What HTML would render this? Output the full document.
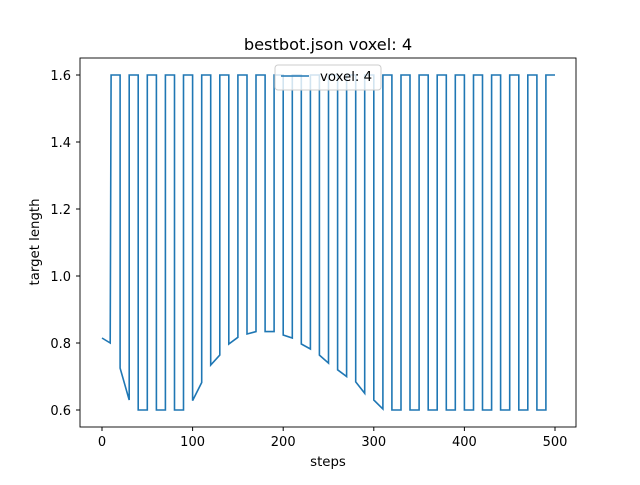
<!DOCTYPE html>
<html><head><meta charset="utf-8"><style>
body{margin:0;background:#fff;}
svg text{font-family:"DejaVu Sans","Liberation Sans",sans-serif;fill:#000;}
</style></head><body>
<svg id="chart" width="640" height="480" xmlns="http://www.w3.org/2000/svg">
<rect width="640" height="480" fill="#fff"/>
<text x="328" y="50" font-size="16.2" text-anchor="middle">bestbot.json voxel: 4</text>
<g id="xt"></g><g id="yt"></g>
<path id="line" fill="none" stroke="#1f77b4" stroke-width="1.6" stroke-linejoin="miter"/>
<rect x="80" y="58" width="496" height="369" fill="none" stroke="#000" stroke-width="0.9"/>
<text x="328" y="466" font-size="13.3" text-anchor="middle">steps</text>
<text transform="translate(39,242) rotate(-90)" font-size="13.3" text-anchor="middle">target length</text>
<g>
<rect x="275" y="65" width="106" height="25" rx="3" fill="#fff" fill-opacity="0.8" stroke="#ccc"/>
<line x1="281" y1="76" x2="309" y2="76" stroke="#1f77b4" stroke-width="1.6"/>
<text x="320" y="81" font-size="13.3">voxel: 4</text>
</g>
</svg>
<script>
const xTicks=[0,100,200,300,400,500];
const yTicks=[0.6,0.8,1.0,1.2,1.4,1.6];
const highVal=1.6;
const startVals=[0.815,0.80];
const lowStartVals=[0.725,0.6,0.6,0.6,0.628,0.734,0.797,0.827,0.834,0.824,0.797,0.764,0.72,0.684,0.63,0.6,0.6,0.6,0.6,0.6,0.6,0.6,0.6,0.6];
const lowEndVals=[0.63,0.6,0.6,0.6,0.682,0.764,0.817,0.834,0.834,0.815,0.782,0.74,0.70,0.65,0.603,0.6,0.6,0.6,0.6,0.6,0.6,0.6,0.6,0.6];
const period=20, endStep=500;
const X=v=>102+(v/500)*453;
const Y=v=>75+(1.6-v)*335;
const ns="http://www.w3.org/2000/svg";
const xt=document.getElementById('xt'), yt=document.getElementById('yt');
xTicks.forEach(t=>{
 const l=document.createElementNS(ns,'line');
 
 
 l.setAttribute('x1',X(t));l.setAttribute('x2',X(t));l.setAttribute('y1',427);l.setAttribute('y2',431);l.setAttribute('stroke','#000');
 xt.appendChild(l);
 const s=document.createElementNS(ns,'text');
 
 
 s.setAttribute('x',X(t));s.setAttribute('y',446);s.setAttribute('font-size','13');s.setAttribute('text-anchor','middle');
 s.textContent=t;xt.appendChild(s);
});
yTicks.forEach(t=>{
 const l=document.createElementNS(ns,'line');
 
 
 l.setAttribute('x1',76);l.setAttribute('x2',80);l.setAttribute('y1',Y(t));l.setAttribute('y2',Y(t));l.setAttribute('stroke','#000');
 yt.appendChild(l);
 const s=document.createElementNS(ns,'text');
 
 
 s.setAttribute('x',71);s.setAttribute('y',Y(t)+5);s.setAttribute('font-size','13');s.setAttribute('text-anchor','end');
 s.textContent=t.toFixed(1);yt.appendChild(s);
});
let pts=[[0,startVals[0]],[9,startVals[1]],[10,highVal]];
lowStartVals.forEach((a,i)=>{
 const L=period*(i+1);
 pts.push([L,highVal],[L,a],[L+10,lowEndVals[i]],[L+10,highVal]);
});
pts.push([endStep,highVal]);
document.getElementById('line').setAttribute('d',pts.map((p,i)=>(i?'L':'M')+X(p[0]).toFixed(1)+' '+Y(p[1]).toFixed(1)).join(' '));
</script>
</body></html>
